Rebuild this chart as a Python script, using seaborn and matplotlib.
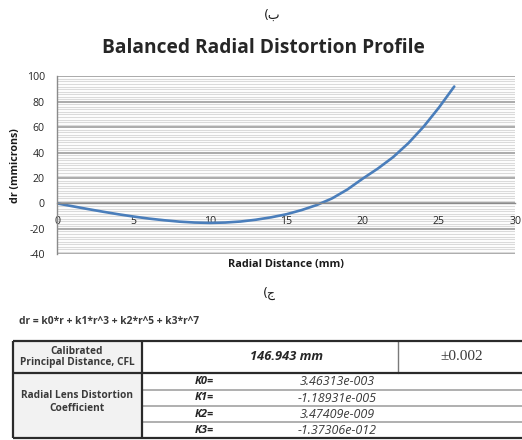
import matplotlib
matplotlib.use("Agg")
import matplotlib.pyplot as plt
import seaborn as sns
from matplotlib.ticker import MultipleLocator
from matplotlib.patches import Rectangle

# Curve (radial distance in mm, dr in microns)
radial_mm = [0, 1, 2, 3, 4, 5, 6, 7, 8, 9, 10, 11, 12, 13, 14, 15, 16, 17, 18, 19,
             20, 21, 22, 23, 24, 25, 26]
dr_microns = [0, -2.2, -4.4, -6.5, -8.5, -10.3, -11.9, -13.2, -14.3, -15.0, -15.3,
              -15.0, -14.2, -12.8, -10.9, -8.5, -5.2, -1.2, 4.0, 11.0,
              19.5, 27.5, 36.5, 47.5, 60.5, 75.5, 92.0]

x_ticks = [0, 5, 10, 15, 20, 25, 30]
y_ticks = [-40, -20, 0, 20, 40, 60, 80, 100]

# Calibration table
cfl_label = "Calibrated\nPrincipal Distance, CFL"
cfl_value = "146.943 mm"
cfl_tol = "\u00b10.002"
coef_label = "Radial Lens Distortion\nCoefficient"
coef_names = ["K0=", "K1=", "K2=", "K3="]
coef_values = ["3.46313e-003", "-1.18931e-005", "3.47409e-009", "-1.37306e-012"]
formula = "dr = k0*r + k1*r^3 + k2*r^5 + k3*r^7"

sns.set_style("white")
plt.rcParams["font.family"] = ["Open Sans", "DejaVu Sans"]
plt.rcParams["axes.unicode_minus"] = False

fig = plt.figure(figsize=(5.22, 4.4), dpi=100)

# background layer in pixel coordinates for the labels and the table
bg = fig.add_axes([0, 0, 1, 1], zorder=0)
bg.set_xlim(0, 522)
bg.set_ylim(440, 0)
bg.axis("off")

ax = fig.add_axes([0.1098, 0.422, 0.8774, 0.4045], zorder=1)
ax.patch.set_alpha(0)

sns.lineplot(x=radial_mm, y=dr_microns, ax=ax, color="#4a7ebb", linewidth=1.9)

ax.set_xlim(0, 30)
ax.set_ylim(-40, 100)
ax.set_xticks(x_ticks)
ax.set_yticks(y_ticks)
ax.yaxis.set_minor_locator(MultipleLocator(2))
ax.grid(which="minor", axis="y", color="#dadada", linewidth=0.8)
ax.grid(which="major", axis="y", color="#9c9c9c", linewidth=1.2)
ax.grid(which="major", axis="x", visible=False)
ax.set_axisbelow(True)
# x tick labels sit over the gridlines, as in the original
ax.xaxis.set_zorder(1.5)

for side in ["top", "right"]:
    ax.spines[side].set_visible(False)
ax.spines["bottom"].set_position(("data", 0))
ax.spines["bottom"].set_color("#8a8a8a")
ax.spines["left"].set_color("#8a8a8a")
ax.spines["bottom"].set_linewidth(1.0)
ax.spines["left"].set_linewidth(1.0)

ax.tick_params(axis="x", which="major", direction="out", length=3, width=0.8,
               color="#8a8a8a", pad=6, labelsize=7.6, labelcolor="#262626")
ax.tick_params(axis="y", which="major", direction="out", length=3, width=0.8,
               color="#8a8a8a", pad=6, labelsize=7.6, labelcolor="#262626")
ax.tick_params(axis="y", which="minor", length=0)

ax.set_xlabel("Radial Distance (mm)", fontsize=7.8, fontweight="bold", color="#1a1a1a")
ax.xaxis.set_label_coords(0.5, -0.028)
ax.set_ylabel("dr (mmicrons)", fontsize=7.7, fontweight="bold", color="#1a1a1a")
ax.yaxis.set_label_coords(-0.08, 0.5)

# headings
bg.text(272, 15, "(\u0628", ha="center", va="center", fontsize=9,
        family=["DejaVu Sans"], color="#1a1a1a")
bg.text(263, 48, "Balanced Radial Distortion Profile", ha="center", va="center",
        fontsize=13.8, fontweight="bold", color="#262626")
bg.text(269, 293, "(\u062c", ha="center", va="center", fontsize=9,
        family=["DejaVu Sans"], color="#1a1a1a")
bg.text(19, 321, formula, ha="left", va="center", fontsize=7.4,
        fontweight="bold", color="#3a3a3a")

# table
top, row1, bottom = 341, 372.7, 438.5
left, col1, col2, right = 13, 141.7, 398, 530
sub_rows = [373.3, 390, 406, 422.3, 438.5]

bg.add_patch(Rectangle((left, top), col1 - left, bottom - top,
                       facecolor="#f2f2f2", edgecolor="none"))
for y in sub_rows[1:-1]:
    bg.plot([col1, right], [y, y], color="#9a9a9a", linewidth=1.1)
bg.plot([col2, col2], [top, row1], color="#7a7a7a", linewidth=1.0)
thick = dict(color="#2b2b2b", linewidth=1.6, solid_capstyle="butt")
bg.plot([left, right], [top, top], **thick)
bg.plot([left, right], [row1, row1], **thick)
bg.plot([left, right], [bottom, bottom], **thick)
bg.plot([left, left], [top, bottom], **thick)
bg.plot([col1, col1], [top, bottom], **thick)

bg.text(77, 357, cfl_label, ha="center", va="center", fontsize=7.3,
        fontweight="bold", color="#3a3a3a", linespacing=1.05)
bg.text(77, 402, coef_label, ha="center", va="center", fontsize=7.3,
        fontweight="bold", color="#3a3a3a", linespacing=1.2)
bg.text(287, 357, cfl_value, ha="center", va="center", fontsize=9.3,
        fontweight="bold", fontstyle="italic", color="#262626")
bg.text(462, 357, cfl_tol, ha="center", va="center", fontsize=11,
        family=["Liberation Serif"], color="#3a3a3a")
for i, (name, val) in enumerate(zip(coef_names, coef_values)):
    yc = (sub_rows[i] + sub_rows[i + 1]) / 2
    bg.text(195, yc, name, ha="left", va="center", fontsize=8,
            fontweight="bold", fontstyle="italic", color="#262626")
    bg.text(337, yc, val, ha="center", va="center", fontsize=9,
            fontstyle="italic", color="#3a3a3a")

fig.savefig("out.png", dpi=100)
